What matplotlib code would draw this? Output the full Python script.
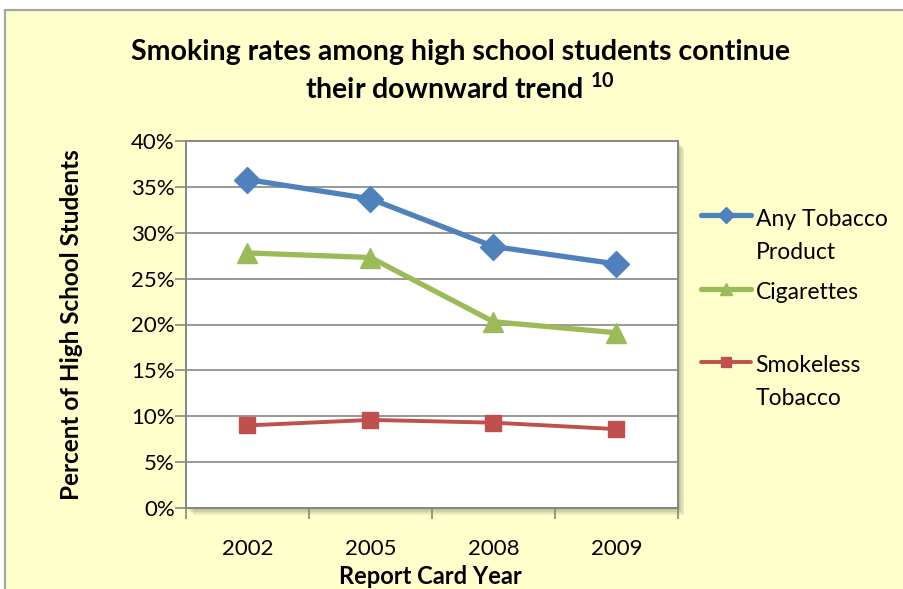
import matplotlib.pyplot as plt
from matplotlib.patches import Rectangle
from matplotlib.legend_handler import HandlerLine2D
from matplotlib.ticker import PercentFormatter, FixedLocator

plt.rcParams['font.family'] = ['Lato', 'DejaVu Sans']
plt.rcParams['mathtext.fontset'] = 'custom'
plt.rcParams['mathtext.bf'] = 'Lato:bold'

years = ["2002", "2005", "2008", "2009"]
any_tobacco = [35.8, 33.7, 28.5, 26.6]
cigarettes = [27.8, 27.3, 20.3, 19.1]
smokeless = [9.0, 9.6, 9.3, 8.6]

BLUE = "#4F81BD"
GREEN = "#9BBB59"
RED = "#C0504D"
GRID = "#868686"
BG = "#FFFFCC"

W, H = 904, 589


class FirstLineHandler(HandlerLine2D):
    """Legend key that sits level with the first line of a two-line label."""
    def __init__(self, shift, **kw):
        super().__init__(**kw)
        self.shift = shift

    def create_artists(self, legend, orig_handle, xdescent, ydescent,
                       width, height, fontsize, trans):
        artists = super().create_artists(legend, orig_handle, xdescent, ydescent,
                                         width, height, fontsize, trans)
        for a in artists:
            a.set_ydata([y + self.shift for y in a.get_ydata()])
        return artists


fig = plt.figure(figsize=(W / 100, H / 100), dpi=100, facecolor="white")

# chart area with grey frame
fig.patches.append(Rectangle((5 / W, -0.1), 1.1, (H - 10) / H + 0.1,
                             transform=fig.transFigure, facecolor=BG,
                             edgecolor="#A6A6A6", linewidth=1.6, zorder=0))

left, right, top, bottom = 186, 678, 141, 508
ax = fig.add_axes([left / W, 1 - bottom / H, (right - left) / W, (bottom - top) / H])
ax.set_zorder(2)

# soft drop shadow behind the plot area
for i in range(4):
    off = 2 + i * 1.5
    fig.patches.append(Rectangle(((left + off) / W, 1 - (bottom + off) / H),
                                 (right - left) / W, (bottom - top) / H,
                                 transform=fig.transFigure, facecolor="#5A5A3C",
                                 alpha=0.10, edgecolor="none", zorder=0.5))

ax.set_facecolor("white")
x = range(len(years))
ax.plot(x, any_tobacco, color=BLUE, lw=3.8, marker="D", ms=13,
        label="Any Tobacco\nProduct", solid_capstyle="round", zorder=4)
ax.plot(x, cigarettes, color=GREEN, lw=3.8, marker="^", ms=15,
        label="Cigarettes\n", solid_capstyle="round", zorder=4)
ax.plot(x, smokeless, color=RED, lw=2.8, marker="s", ms=11,
        label="Smokeless\nTobacco", solid_capstyle="round", zorder=4)

ax.set_xlim(-0.5, len(years) - 0.5)
ax.set_ylim(0, 40)
ax.set_yticks(range(0, 41, 5))
ax.yaxis.set_major_formatter(PercentFormatter(decimals=0))
ax.set_xticks(list(x))
ax.set_xticklabels(years)
ax.xaxis.set_minor_locator(FixedLocator([i - 0.5 for i in range(len(years) + 1)]))
ax.tick_params(axis="x", which="major", length=0, pad=22, labelsize=16)
ax.tick_params(axis="x", which="minor", length=8, width=1.2, color=GRID, direction="out")
ax.tick_params(axis="y", length=8, width=1.2, color=GRID, direction="out",
               pad=0, labelsize=16)

ax.grid(axis="y", color=GRID, lw=1.2, zorder=1)
ax.set_axisbelow(True)
for s in ["left", "bottom", "right", "top"]:
    ax.spines[s].set_color(GRID)
    ax.spines[s].set_linewidth(1.4)

ax.set_xlabel("Report Card Year", fontsize=17, fontweight="bold")
ax.xaxis.set_label_coords(0.497, -0.155)
ax.set_ylabel("Percent of High School Students", fontsize=17.5, fontweight="bold")
ax.yaxis.set_label_coords(-0.21, 0.5)

fig.text(0.509, 1 - 52 / H, "Smoking rates among high school students continue",
         ha="center", va="center", fontsize=20.5, fontweight="bold")
fig.text(0.509, 1 - 88 / H, r"their downward trend $^{\mathbf{10}}$",
         ha="center", va="center", fontsize=20.5, fontweight="bold")

handles, labels = ax.get_legend_handles_labels()
hm = {h: FirstLineHandler(shift=15) for h in handles}
leg = fig.legend(handles, labels, handler_map=hm, loc="upper left",
                 bbox_to_anchor=(680 / W, 1 - 188 / H), frameon=False,
                 fontsize=16.5, handlelength=2.2, handletextpad=0.2,
                 labelspacing=0.85, markerscale=0.6)
for t in leg.get_texts():
    t.set_linespacing(1.7)

fig.savefig("out.png", dpi=100, facecolor=fig.get_facecolor())
